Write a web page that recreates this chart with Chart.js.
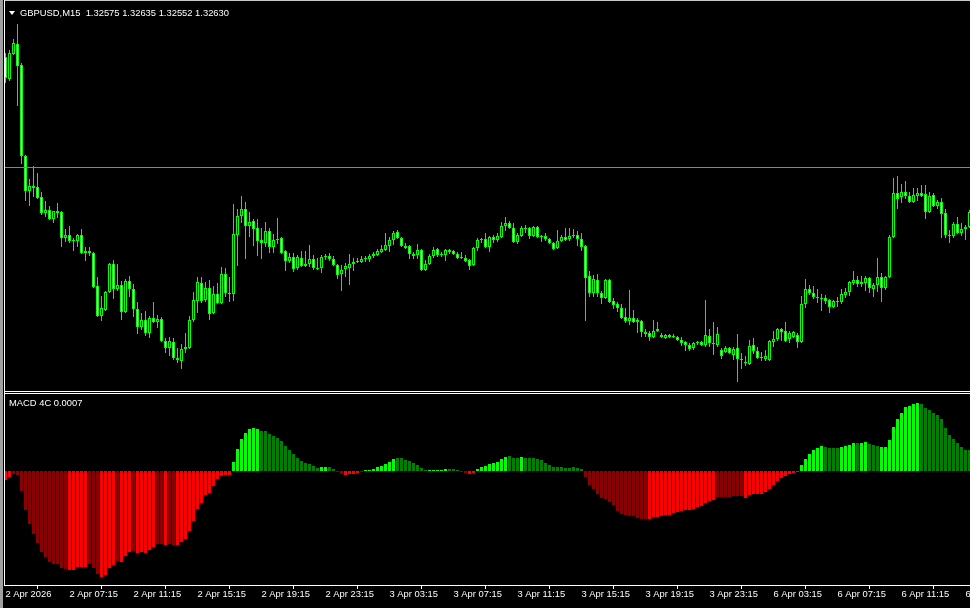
<!DOCTYPE html>
<html>
<head>
<meta charset="utf-8">
<title>GBPUSD,M15</title>
<script src="https://cdn.jsdelivr.net/npm/chart.js@4.4.1/dist/chart.umd.min.js"></script>
<style>
   html, body { margin: 0; padding: 0; background: #000; width: 970px; height: 608px; overflow: hidden; }
   #wrap { position: relative; width: 970px; height: 608px; font-family: "Liberation Sans", Arial, sans-serif; }
   canvas { position: absolute; left: 0; }
   .line { position: absolute; }
   .label { position: absolute; color: #fff; font-size: 9.4px; line-height: 10px; white-space: pre; }
   #tri { position: absolute; left: 9px; top: 11px; width: 0; height: 0;
          border-left: 3px solid transparent; border-right: 3px solid transparent; border-top: 4px solid #fff; }
</style>
</head>
<body>
<div id="wrap">
   <canvas id="priceChart" width="970" height="391" style="top:0"></canvas>
   <canvas id="macdChart" width="970" height="214" style="top:394px"></canvas>

   <div class="line" style="left:0;top:0;width:3px;height:608px;background:#a0a0a0"></div>
   <div class="line" style="left:4px;top:0;width:966px;height:1px;background:#c8c8c8"></div>
   <div class="line" style="left:4px;top:0;width:1px;height:586px;background:#fff"></div>
   <div class="line" style="left:4px;top:391px;width:966px;height:1px;background:#fff"></div>
   <div class="line" style="left:4px;top:393px;width:966px;height:1px;background:#fff"></div>

   <div id="tri"></div>
   <div class="label" id="header" style="left:20px;top:8px"></div>
   <div class="label" id="macdLabel" style="left:9px;top:398px"></div>
</div>

<script>
// GBPUSD M15, prices in points (1 point = 0.00001)
const symbol = 'GBPUSD,M15';
const lastQuote = ['1.32575', '1.32635', '1.32552', '1.32630'];
const bidPts = 132630;

const openPts = [
   133180,133070,133195,133245,133140,132685,132510,132535,132530,132480,
   132400,132415,132370,132410,132405,132275,132290,132260,132260,132290,
   132200,132210,132200,132035,131885,131915,132005,132145,132020,132040,
   131905,132060,132020,131920,131830,131865,131800,131875,131855,131870,
   131760,131725,131755,131675,131660,131720,131725,131865,131960,132050,
   131965,132025,131900,131995,131950,132095,132000,131995,132290,132385,
   132420,132335,132360,132325,132265,132250,132310,132230,132265,132275,
   132210,132160,132180,132125,132175,132135,132145,132170,132125,132125,
   132180,132185,132170,132140,132095,132120,132125,132145,132155,132155,
   132170,132170,132185,132190,132205,132215,132235,132265,132305,132275,
   132235,132235,132195,132190,132215,132115,132145,132185,132220,132190,
   132190,132215,132210,132195,132175,132175,132165,132140,132225,132265,
   132270,132230,132280,132265,132280,132335,132350,132325,132255,132285,
   132325,132325,132285,132330,132280,132285,132270,132250,132225,132260,
   132280,132270,132285,132290,132270,132235,132085,132000,132065,132000,
   131975,132065,131960,131945,131925,131880,131860,131875,131855,131860,
   131805,131800,131780,131810,131790,131775,131790,131780,131780,131765,
   131755,131740,131725,131750,131755,131740,131785,131750,131740,131715,
   131705,131725,131690,131725,131670,131655,131645,131740,131710,131675,
   131670,131665,131755,131770,131820,131810,131770,131780,131790,131755,
   131945,132020,132000,131980,131975,131975,131965,131930,131960,131955,
   131990,132005,132050,132065,132045,132050,132075,132020,132040,132080,
   132025,132080,132280,132500,132480,132505,132485,132455,132485,132500,
   132495,132405,132490,132435,132455,132400,132290,132285,132345,132300,
   132320,132330
];

const highPts = [
   133200,133215,133270,133345,133150,132690,132570,132635,132600,132505,
   132460,132435,132410,132450,132410,132320,132335,132275,132295,132320,
   132230,132230,132205,132080,131985,132010,132150,132165,132145,132060,
   132070,132085,132045,131955,131900,131910,131885,131955,131890,131880,
   131775,131780,131775,131725,131745,131800,131885,132005,132080,132080,
   132055,132065,132035,132050,132130,132125,132080,132445,132420,132485,
   132455,132405,132370,132370,132325,132355,132325,132295,132375,132280,
   132215,132200,132200,132190,132210,132210,132240,132190,132175,132190,
   132195,132200,132185,132145,132140,132150,132195,132175,132175,132185,
   132185,132195,132205,132220,132240,132300,132280,132310,132315,132280,
   132250,132240,132205,132245,132220,132165,132195,132230,132225,132205,
   132220,132220,132215,132205,132205,132190,132170,132230,132275,132275,
   132300,132285,132290,132300,132355,132380,132360,132350,132300,132335,
   132340,132330,132335,132335,132290,132300,132275,132255,132315,132290,
   132325,132325,132320,132310,132300,132240,132110,132090,132095,132010,
   132070,132070,131975,131955,131945,131925,132015,131915,131875,131865,
   131820,131810,131865,131855,131800,131795,131795,131795,131785,131780,
   131760,131750,131755,131760,131760,131965,131820,131855,131830,131725,
   131735,131730,131730,131795,131700,131685,131765,131775,131730,131705,
   131715,131765,131810,131825,131825,131855,131810,131810,131800,131985,
   132070,132040,132035,132020,131995,131990,131970,131965,131980,132020,
   132025,132060,132110,132085,132085,132085,132080,132050,132175,132100,
   132085,132290,132575,132585,132545,132560,132505,132525,132525,132540,
   132540,132505,132500,132465,132475,132420,132315,132355,132380,132350,
   132340,132415
];

const lowPts = [
   133050,133060,133190,132935,132645,132460,132435,132480,132470,132390,
   132380,132365,132350,132375,132230,132255,132250,132210,132230,132195,
   132160,132185,132025,131880,131860,131910,132000,131970,132010,131865,
   131900,131980,131880,131795,131815,131785,131775,131850,131825,131755,
   131700,131685,131665,131650,131620,131700,131720,131855,131900,131950,
   131955,131865,131895,131945,131945,131980,131955,131960,132135,132350,
   132170,132280,132235,132185,132170,132230,132200,132200,132245,132195,
   132110,132150,132105,132115,132130,132130,132130,132115,132115,132100,
   132165,132160,132135,132070,132010,132080,132040,132110,132150,132150,
   132155,132155,132175,132185,132200,132210,132205,132240,132270,132230,
   132220,132170,132170,132170,132110,132110,132140,132175,132180,132180,
   132160,132195,132190,132170,132170,132155,132115,132135,132210,132250,
   132225,132205,132250,132255,132275,132310,132320,132250,132245,132280,
   132300,132270,132280,132275,132255,132260,132245,132215,132220,132255,
   132260,132260,132275,132235,132210,131860,131980,131980,131980,131945,
   131970,131950,131920,131905,131870,131850,131840,131850,131800,131780,
   131780,131760,131775,131805,131775,131770,131775,131775,131760,131735,
   131710,131710,131715,131740,131735,131730,131730,131690,131730,131670,
   131700,131695,131665,131555,131620,131635,131640,131695,131670,131660,
   131660,131660,131730,131760,131760,131755,131750,131775,131725,131750,
   131925,131990,131970,131950,131910,131945,131900,131925,131930,131945,
   131975,131985,132040,132030,132030,132010,132000,131980,132005,131955,
   132015,132075,132275,132420,132450,132470,132450,132450,132460,132480,
   132370,132400,132430,132420,132275,132275,132250,132275,132295,132285,
   132265,132325
];

const closePts = [
   133075,133200,133250,133135,132685,132510,132535,132525,132475,132400,
   132415,132370,132410,132400,132275,132290,132260,132265,132290,132200,
   132210,132200,132030,131885,131925,132005,132145,132020,132040,131905,
   132060,132020,131920,131830,131865,131800,131875,131855,131870,131760,
   131725,131760,131675,131665,131720,131730,131865,131965,132055,131960,
   132025,131895,131995,131950,132095,132000,131995,132295,132385,132420,
   132335,132355,132320,132260,132250,132310,132230,132265,132270,132200,
   132160,132180,132120,132180,132135,132145,132170,132125,132120,132180,
   132185,132170,132140,132090,132115,132135,132145,132155,132160,132170,
   132175,132185,132195,132210,132220,132240,132265,132300,132275,132235,
   132225,132195,132185,132215,132115,132145,132185,132215,132190,132195,
   132215,132205,132195,132175,132180,132160,132135,132225,132265,132270,
   132230,132280,132265,132285,132335,132350,132325,132255,132290,132325,
   132320,132285,132330,132280,132285,132270,132250,132220,132260,132280,
   132265,132285,132290,132270,132230,132075,132000,132070,132000,131975,
   132065,131955,131940,131925,131875,131860,131875,131855,131865,131805,
   131795,131780,131810,131820,131780,131790,131780,131785,131765,131750,
   131740,131720,131750,131755,131740,131790,131750,131745,131795,131685,
   131725,131700,131720,131670,131665,131650,131735,131710,131675,131680,
   131685,131760,131770,131820,131805,131760,131800,131805,131755,131945,
   132020,132000,131980,131975,131970,131960,131930,131960,131955,131995,
   132005,132055,132065,132045,132055,132075,132025,132040,132080,132025,
   132080,132280,132500,132470,132505,132485,132455,132490,132500,132485,
   132405,132485,132435,132455,132395,132290,132285,132345,132300,132320,
   132330,132405
];

// MACD 4C histogram, units of 0.00001
const macdHist = [
   -9,-6,-3,-4,-20,-39,-53,-63,-72,-81,
   -86,-91,-93,-93,-97,-98,-99,-99,-96,-96,
   -96,-93,-97,-103,-106,-104,-97,-94,-90,-91,
   -85,-81,-80,-82,-81,-82,-79,-76,-73,-73,
   -74,-73,-74,-74,-71,-68,-60,-50,-38,-32,
   -24,-22,-15,-8,-5,-4,-4,9,22,32,
   38,42,43,42,40,40,37,35,33,30,
   25,21,17,13,10,8,7,5,3,4,
   4,4,2,-1,-3,-4,-3,-3,-2,-1,
   1,1,2,4,5,7,9,12,13,13,
   11,10,8,6,3,1,1,1,1,1,
   2,2,2,1,-1,-2,-3,-2,2,4,
   5,7,8,9,12,14,15,13,13,14,
   13,13,13,12,11,8,6,4,4,4,
   3,3,4,3,2,-6,-14,-18,-23,-27,
   -28,-31,-34,-40,-43,-44,-45,-45,-47,-48,
   -48,-48,-46,-46,-45,-44,-44,-42,-41,-40,
   -39,-39,-38,-36,-35,-32,-30,-29,-26,-26,
   -26,-26,-25,-25,-25,-27,-24,-23,-23,-23,
   -21,-18,-14,-10,-7,-5,-3,-2,-1,6,
   12,17,21,23,25,24,23,23,23,24,
   25,26,28,28,28,29,27,26,25,24,
   24,31,44,52,58,64,65,67,68,67,
   63,61,58,56,52,43,36,32,28,24,
   21,21
];
// colour buffer of the indicator: 1 = bright (lime / red), 0 = dark (green / maroon)
const macdBright = [
   1,1,0,0,0,0,0,0,0,0,
   0,0,0,0,0,0,1,1,1,1,
   1,0,0,0,1,1,1,1,0,1,
   1,1,0,1,1,1,1,1,0,0,
   1,0,0,1,1,1,1,1,1,1,
   1,1,1,1,1,1,1,1,1,1,
   1,1,1,1,0,0,0,0,0,0,
   0,0,0,0,0,0,0,0,0,1,
   1,0,0,0,0,1,1,1,1,0,
   1,1,1,1,1,1,1,1,0,0,
   0,0,0,0,0,0,1,1,1,1,
   1,0,0,0,0,0,1,1,1,1,
   1,1,1,1,1,1,0,0,0,1,
   0,0,0,0,0,0,0,0,0,0,
   0,0,0,0,0,0,0,0,0,0,
   0,0,0,0,0,0,0,0,0,0,
   0,1,1,1,1,1,1,1,1,1,
   1,1,1,1,1,1,1,1,0,0,
   0,0,0,0,0,1,1,1,1,1,
   1,1,1,1,1,1,1,1,1,1,
   1,1,1,1,1,0,0,0,0,1,
   1,1,1,0,1,1,0,0,0,1,
   1,1,1,1,1,1,1,1,1,0,
   0,0,0,0,0,0,0,0,0,0,
   0,0
];
const macdCurrent = '0.0007';

// time axis: one label every 16 bars (4 hours)
const tickBars = [0,16,32,48,64,80,96,112,128,144,160,176,192,208,224,240];
const tickLabels = ['2 Apr 2026','2 Apr 07:15','2 Apr 11:15','2 Apr 15:15','2 Apr 19:15','2 Apr 23:15',
   '3 Apr 03:15','3 Apr 07:15','3 Apr 11:15','3 Apr 15:15','3 Apr 19:15','3 Apr 23:15',
   '6 Apr 03:15','6 Apr 07:15','6 Apr 11:15','6 Apr 15:15'];


const toPrice = v => v / 100000;
const xMin = -0.375, xMax = 241.125;

document.getElementById('header').textContent = symbol + '  ' + lastQuote.join(' ');
document.getElementById('macdLabel').textContent = 'MACD 4C ' + macdCurrent;

// horizontal bid line
const bidLine = {
   id: 'bidLine',
   afterDatasetsDraw(chart) {
      const y = Math.round(chart.scales.y.getPixelForValue(toPrice(bidPts))) + 0.5;
      const ctx = chart.ctx;
      ctx.save();
      ctx.strokeStyle = '#778899';
      ctx.lineWidth = 1;
      ctx.beginPath();
      ctx.moveTo(chart.chartArea.left, y);
      ctx.lineTo(chart.chartArea.right, y);
      ctx.stroke();
      ctx.restore();
   }
};

function drawPriceChart(){
   const bodies = openPts.map((o, i) => ({ x: i, y: [toPrice(o), toPrice(closePts[i])] }));
   const wicks = lowPts.map((l, i) => ({ x: i, y: [toPrice(l), toPrice(highPts[i])] }));
   const bodyFill = openPts.map((o, i) => closePts[i] < o ? '#ffffff' : '#000000');

   new Chart(document.getElementById('priceChart'), {
      type: 'bar',
      data: {
         datasets: [
            { data: bodies, backgroundColor: bodyFill, borderColor: '#00ff00', borderWidth: 1,
              borderSkipped: false, barThickness: 3, grouped: false, inflateAmount: 0, order: 0 },
            { data: wicks, backgroundColor: '#00ff00', borderWidth: 0,
              barThickness: 1, grouped: false, inflateAmount: 0, order: 1 }
         ]
      },
      options: {
         responsive: false,
         animation: false,
         devicePixelRatio: 1,
         layout: { padding: { left: 4, right: 0, top: 0, bottom: 0 }, autoPadding: false },
         plugins: { legend: { display: false }, tooltip: { enabled: false } },
         scales: {
            x: { type: 'linear', display: false, min: xMin, max: xMax, offset: false, bounds: 'data' },
            y: { display: false, min: 1.31510, max: 1.33465, bounds: 'data' }
         }
      },
      plugins: [bidLine]
   });
}

function drawMacdChart(){
   const colors = macdHist.map((v, i) => {
      if (v >= 0) return macdBright[i] ? '#00ff00' : '#008000';
      return macdBright[i] ? '#ff0000' : '#8b0000';
   });

   new Chart(document.getElementById('macdChart'), {
      type: 'bar',
      data: {
         datasets: [{
            data: macdHist.map((v, i) => ({ x: i, y: toPrice(v) })),
            backgroundColor: colors, borderWidth: 0, barThickness: 3, grouped: false, inflateAmount: 0
         }]
      },
      options: {
         responsive: false,
         animation: false,
         devicePixelRatio: 1,
         layout: { padding: { left: 4, right: 0, top: 0, bottom: 0 }, autoPadding: false },
         plugins: { legend: { display: false }, tooltip: { enabled: false } },
         scales: {
            x: {
               type: 'linear', min: xMin, max: xMax, offset: false, bounds: 'data', position: 'bottom',
               afterBuildTicks: s => { s.ticks = tickBars.map(v => ({ value: v })); },
               afterFit: s => { s.height = 23; s.paddingLeft = 0; s.paddingRight = 0; },
               grid: { drawOnChartArea: false, color: '#ffffff', tickLength: 4 },
               border: { display: true, color: '#ffffff' },
               ticks: {
                  autoSkip: false, maxRotation: 0, align: 'start', padding: 0, color: '#ffffff',
                  font: { family: 'Liberation Sans', size: 9.4 },
                  callback: v => tickLabels[tickBars.indexOf(v)]
               }
            },
            y: { display: false, min: -0.00114, max: 0.00077, bounds: 'data' }
         }
      }
   });
}

drawPriceChart();
drawMacdChart();
</script>
</body>
</html>
